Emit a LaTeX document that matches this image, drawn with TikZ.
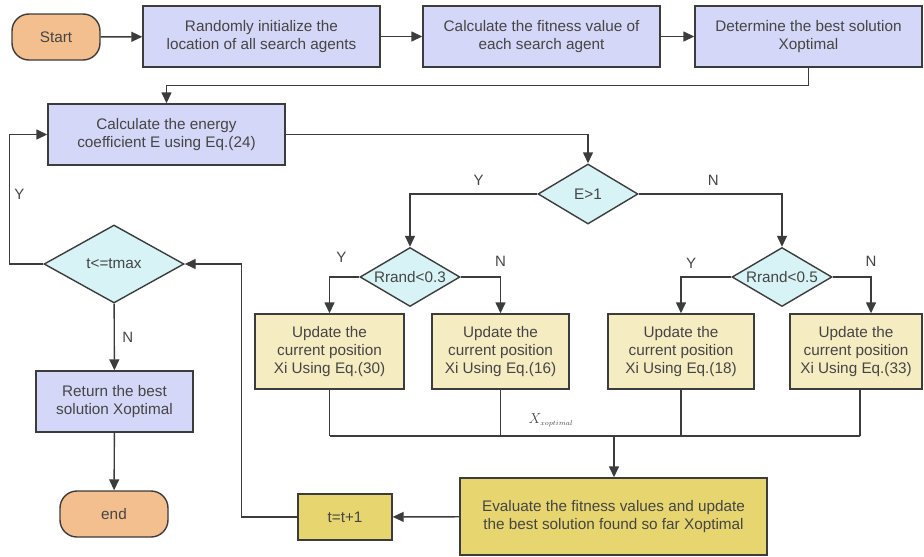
\documentclass[tikz,border=0pt]{standalone}
\usepackage{fontspec}
\setmainfont{Liberation Sans}
\usetikzlibrary{arrows.meta,shapes.geometric}

\definecolor{lavender}{HTML}{D4D7F7}
\definecolor{palecyan}{HTML}{D7F3F5}
\definecolor{peach}{HTML}{F4BF8E}
\definecolor{paleyellow}{HTML}{F6ECC1}
\definecolor{mustard}{HTML}{E7D66F}
\definecolor{linegray}{HTML}{3C3C3C}
\definecolor{txtgray}{HTML}{454545}

\begin{document}
\begin{tikzpicture}[
    x=1pt, y=-1pt,
    line width=1.4pt,
    font=\fontsize{15.3}{18}\selectfont,
    text=txtgray,
    arr/.style={line width=1.4pt, draw=linegray, -{Triangle[length=11pt,width=10pt]}},
    wire/.style={line width=1.4pt, draw=linegray},
    lab/.style={font=\fontsize{15}{16}\selectfont, text=txtgray},
    proc/.style={rectangle, draw=linegray, fill=lavender, align=center, inner sep=0pt},
    upd/.style={proc, fill=paleyellow},
    dec/.style={diamond, draw=linegray, fill=palecyan, inner sep=0pt, aspect=1.8},
    term/.style={rectangle, rounded corners=17pt, draw=linegray, fill=peach,
      minimum width=108, minimum height=46},
  ]
  \useasboundingbox (0,0) rectangle (924,557);

  % top row
  \node[term, minimum width=88] (start) at (56,37) {Start};
  \node[proc, minimum width=237, minimum height=61] (init) at (261.5,36.5)
    {Randomly initialize the\\location of all search agents};
  \node[proc, minimum width=237, minimum height=61] (fit) at (541.5,36.5)
    {Calculate the fitness value of\\each search agent};
  \node[proc, minimum width=227, minimum height=61] (best) at (808.5,36.5)
    {Determine the best solution\\Xoptimal};

  \draw[arr] (start) -- (init);
  \draw[arr] (init) -- (fit);
  \draw[arr] (fit) -- (best);

  % energy and branches
  \node[proc, minimum width=237, minimum height=61] (energy) at (166.5,134.5)
    {Calculate the energy\\coefficient E using Eq.(24)};
  \node[dec, minimum width=100, minimum height=60] (e1) at (588,194) {E>1};
  \node[dec, minimum width=100, minimum height=59] (r3) at (410,277) {Rrand<0.3};
  \node[dec, minimum width=100, minimum height=59] (r5) at (782,277) {Rrand<0.5};

  \draw[arr] (best.south) -- ++(0,18) -| (energy.north);
  \draw[arr] (energy.east) -| (e1.north);
  \draw[arr] (e1.west) -| (r3.north) node[lab, pos=0.23, above=4pt] {Y};
  \draw[arr] (e1.east) -| (r5.north) node[lab, pos=0.26, above=4pt] {N};

  % position updates
  \node[upd, minimum width=149, minimum height=75] (u1) at (329.5,351.5)
    {Update the\\current position\\Xi Using Eq.(30)};
  \node[upd, minimum width=137, minimum height=75] (u2) at (500.5,351.5)
    {Update the\\current position\\Xi Using Eq.(16)};
  \node[upd, minimum width=146, minimum height=75] (u3) at (681,351.5)
    {Update the\\current position\\Xi Using Eq.(18)};
  \node[upd, minimum width=132, minimum height=75] (u4) at (856,351.5)
    {Update the\\current position\\Xi Using Eq.(33)};

  \draw[arr] (r3.west) -| (u1.north) node[lab, pos=0.3, above=10pt] {Y};
  \draw[arr] (r3.east) -| (u2.north) node[lab, pos=0.5, above=6pt] {N};
  \draw[arr] (r5.west) -| (u3.north) node[lab, pos=0.4, above=4pt] {Y};
  \draw[arr] (r5.east) -| ([xshift=15pt]u4.north) node[lab, pos=0.5, above=6pt] {N};

  % merge
  \coordinate (merge) at (614,436);
  \foreach \b in {u1,u2,u3}
    \draw[wire] (\b.south) -- (\b.south |- merge);
  \draw[wire] ([xshift=4pt]u4.south) -- ([xshift=4pt]u4.south |- merge);
  \draw[wire] (u1.south |- merge) -- ([xshift=4pt]u4.south |- merge);
  \node[font=\fontsize{14}{14}\selectfont] (xopt) at (551,420)
    {$X_{\scriptscriptstyle xoptimal}$};

  % evaluation and loop
  \node[proc, fill=mustard, minimum width=307, minimum height=77] (eval) at (613.5,516.5)
    {Evaluate the fitness values and update\\the best solution found so far Xoptimal};
  \node[proc, fill=mustard, minimum width=94, minimum height=46] (tinc) at (345,517) {t=t+1};
  \node[dec, minimum width=140, minimum height=78] (tmax) at (114,264) {t<=tmax};
  \node[proc, minimum width=157, minimum height=61] (ret) at (114.5,401.5)
    {Return the best\\solution Xoptimal};
  \node[term] (endn) at (114,514) {end};

  \draw[arr] (merge) -- (merge |- eval.north);
  \draw[arr] (eval) -- (tinc);
  \draw[arr] (tinc.west) -- ++(-56,0) |- (tmax.east);
  \draw[arr] (tmax.west) -- ++(-34,0) |- (energy.west) node[lab, pos=0.27, right=1pt] {Y};
  \draw[arr] (tmax) -- (ret) node[lab, midway, right=4pt] {N};
  \draw[arr] (ret) -- (endn);
\end{tikzpicture}
\end{document}
